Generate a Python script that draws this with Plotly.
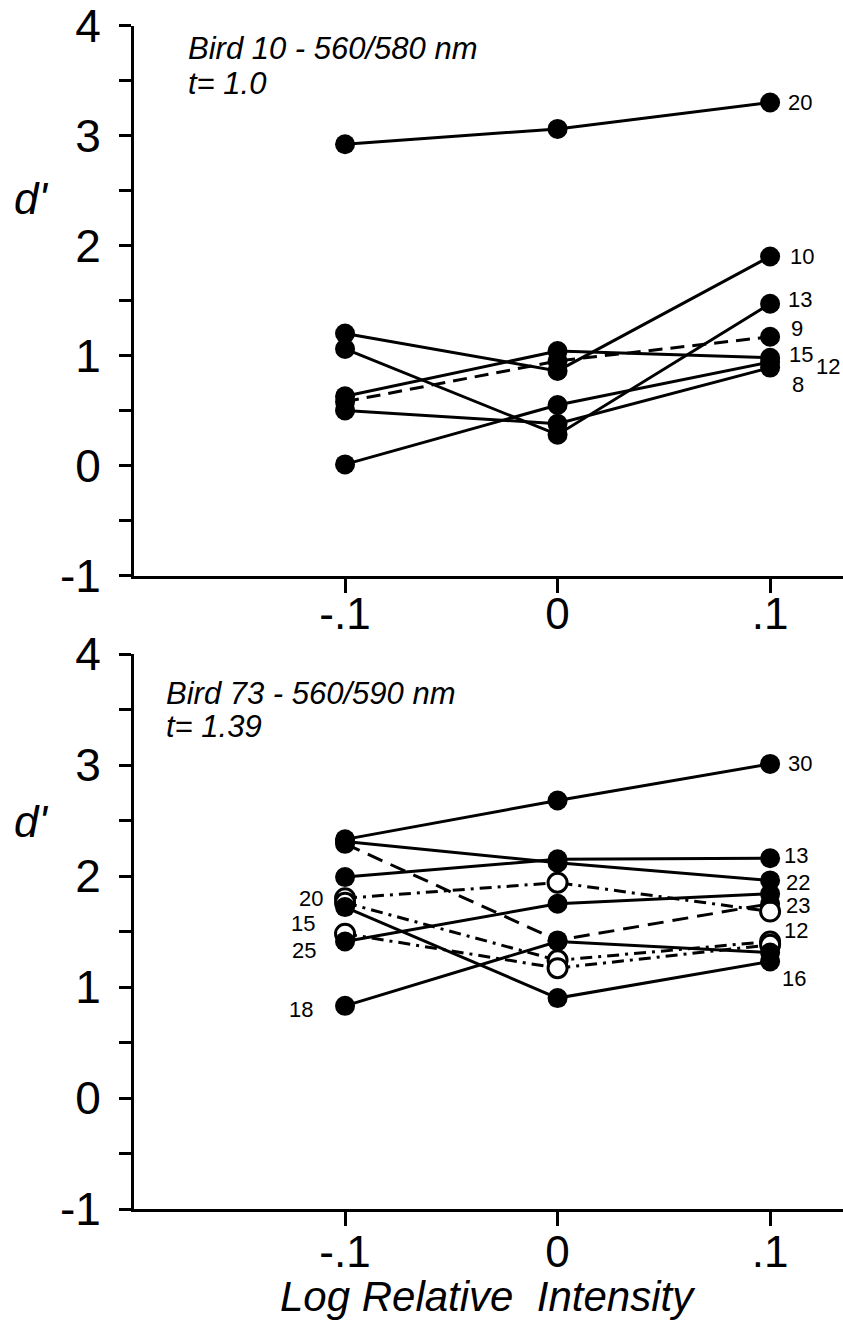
import plotly.graph_objects as go

# ---------------- data ----------------
intensity = [-0.1, 0.0, 0.1]
x_tick_labels = ["-.1", "0", ".1"]
y_ticks = [-1, 0, 1, 2, 3, 4]

# Bird 10 (top panel)
top_names = ["20", "10", "13", "9", "15", "12", "8"]
top_s20 = [2.92, 3.06, 3.30]
top_s10 = [1.20, 0.86, 1.90]
top_s13 = [1.06, 0.28, 1.47]
top_s9 = [0.58, 0.95, 1.17]
top_s15 = [0.63, 1.04, 0.98]
top_s12 = [0.01, 0.55, 0.94]
top_s8 = [0.50, 0.38, 0.89]

# Bird 73 (bottom panel)
bot_names = ["30", "22", "13", "23", "20", "12", "16", "15", "25", "18"]
bot_s30 = [2.33, 2.68, 3.01]
bot_s22 = [2.31, 2.12, 1.96]
bot_s13 = [1.99, 2.15, 2.16]
bot_s23 = [2.29, 1.42, 1.75]
bot_s20 = [1.80, 1.94, 1.68]
bot_s12 = [1.76, 1.24, 1.41]
bot_s16 = [1.72, 0.90, 1.23]
bot_s15 = [1.48, 1.17, 1.38]
bot_s25 = [1.41, 1.75, 1.84]
bot_s18 = [0.83, 1.41, 1.31]

top_title = "Bird 10 - 560/580 nm"
top_t = "t= 1.0"
bot_title = "Bird 73 - 560/590 nm"
bot_t = "t= 1.39"
y_label = "d'"
x_label = "Log Relative  Intensity"

# ---------------- styles ----------------
W, H = 843, 1340
BLACK = "black"
NARROW = "Liberation Sans Narrow, Liberation Sans, Arial, sans-serif"
DASH9 = "14px,8px"
LONGDASH = "16px,9px"
DASHDOT = "12px,6px,3px,6px"

top_series = [
    (top_s20, "solid", True), (top_s10, "solid", True), (top_s13, "solid", True),
    (top_s9, DASH9, True), (top_s15, "solid", True), (top_s12, "solid", True),
    (top_s8, "solid", True),
]
bot_series = [
    (bot_s30, "solid", True), (bot_s22, "solid", True), (bot_s13, "solid", True),
    (bot_s23, LONGDASH, True), (bot_s20, DASHDOT, False), (bot_s12, DASHDOT, False),
    (bot_s16, "solid", True), (bot_s15, DASHDOT, False), (bot_s25, "solid", True),
    (bot_s18, "solid", True),
]

# label placement: (series values, end index, xshift, yshift, xanchor)
top_label_pos = {
    "20": (top_s20, 2, 16, 0, "left"),
    "10": (top_s10, 2, 18, 0, "left"),
    "13": (top_s13, 2, 16, 4, "left"),
    "9": (top_s9, 2, 19, 8, "left"),
    "15": (top_s15, 2, 17, 3, "left"),
    "12": (top_s12, 2, 44, -4, "left"),
    "8": (top_s8, 2, 20, -17, "left"),
}
bot_label_pos = {
    "30": (bot_s30, 2, 16, 0, "left"),
    "13": (bot_s13, 2, 12, 3, "left"),
    "22": (bot_s22, 2, 14, -2, "left"),
    "23": (bot_s20, 2, 14, 6, "left"),
    "12": (bot_s12, 2, 12, 11, "left"),
    "16": (bot_s16, 2, 10, -17, "left"),
    "20": (bot_s20, 0, -20, 0, "right"),
    "15": (bot_s15, 0, -28, 10, "right"),
    "25": (bot_s25, 0, -27, -9, "right"),
    "18": (bot_s18, 0, -30, -4, "right"),
}

PLOT_L = 134
x0 = -0.1993
x1 = 0.1343
top_dom = [1 - 575.5 / H, 1 - 25.5 / H]
bot_dom = [1 - 1209 / H, 1 - 654 / H]

fig = go.Figure()


def add_series(series, xa, ya):
    for vals, dash, filled in series:
        fig.add_trace(go.Scatter(
            x=intensity, y=vals, xaxis=xa, yaxis=ya, mode="lines+markers",
            line=dict(color=BLACK, width=3, dash=dash),
            marker=dict(size=20 if filled else 19, symbol="circle",
                        color=BLACK if filled else "white",
                        line=dict(color=BLACK, width=0 if filled else 3)),
            showlegend=False, hoverinfo="skip", cliponaxis=False))


add_series(top_series, "x", "y")
add_series(bot_series, "x2", "y2")

annotations = []


def add_labels(pos, xref, yref):
    for name, (vals, i, xs, ys, anchor) in pos.items():
        annotations.append(dict(
            x=intensity[i], y=vals[i], xref=xref, yref=yref, text=name,
            showarrow=False, xanchor=anchor, yanchor="middle", xshift=xs, yshift=ys,
            font=dict(family=NARROW, size=22, color=BLACK)))


add_labels(top_label_pos, "x", "y")
add_labels(bot_label_pos, "x2", "y2")

ITAL = "Liberation Sans, Arial, sans-serif"
# panel titles
for title, tline, ty1, ty2, tx in [(top_title, top_t, 48, 84, 186), (bot_title, bot_t, 693, 726, 164)]:
    annotations.append(dict(x=tx / W, y=1 - ty1 / H, xref="paper", yref="paper",
                            text="<i>%s</i>" % title, showarrow=False, xanchor="left", yanchor="middle",
                            font=dict(family=ITAL, size=31, color=BLACK)))
    annotations.append(dict(x=tx / W, y=1 - ty2 / H, xref="paper", yref="paper",
                            text="<i>%s</i>" % tline, showarrow=False, xanchor="left", yanchor="middle",
                            font=dict(family=ITAL, size=31, color=BLACK)))

# d' labels
for yy in [198, 822]:
    annotations.append(dict(x=31 / W, y=1 - yy / H, xref="paper", yref="paper",
                            text="<i>%s</i>" % y_label, showarrow=False, xanchor="center", yanchor="middle",
                            font=dict(family=ITAL, size=44, color=BLACK)))

# x-axis title
annotations.append(dict(x=488 / W, y=1 - 1296 / H, xref="paper", yref="paper",
                        text="<i>%s</i>" % x_label, showarrow=False, xanchor="center", yanchor="middle",
                        font=dict(family=ITAL, size=42, color=BLACK)))

xaxis_style = dict(
    domain=[PLOT_L / W, 1], range=[x0, x1], showline=True, linecolor=BLACK, linewidth=3,
    ticks="outside", tickvals=intensity, ticktext=x_tick_labels, ticklen=14, tickwidth=3,
    tickcolor=BLACK, showgrid=False, zeroline=False, automargin=False, ticklabeloverflow="allow",
    tickfont=dict(family=NARROW, size=44, color=BLACK), fixedrange=True)
yaxis_style = dict(
    range=[-1, 4], showline=True, linecolor=BLACK, linewidth=3, ticks="outside",
    tickvals=y_ticks, ticktext=[str(v) for v in y_ticks], ticklen=12, tickwidth=3, tickcolor=BLACK,
    minor=dict(dtick=0.5, tick0=0, ticks="outside", ticklen=12, tickwidth=3, tickcolor=BLACK),
    showgrid=False, zeroline=False, ticklabelstandoff=9, automargin=False,
    ticklabeloverflow="allow",
    tickfont=dict(family=NARROW, size=46, color=BLACK), fixedrange=True)

fig.update_layout(
    width=W, height=H, margin=dict(l=0, r=0, t=0, b=0, autoexpand=False),
    paper_bgcolor="white", plot_bgcolor="white",
    xaxis=dict(anchor="y", ticklabelstandoff=-16, **xaxis_style),
    yaxis=dict(anchor="x", domain=top_dom, **yaxis_style),
    xaxis2=dict(anchor="y2", ticklabelstandoff=-12, **xaxis_style),
    yaxis2=dict(anchor="x2", domain=bot_dom, **yaxis_style),
    annotations=annotations,
)

fig.write_html("out.html")
